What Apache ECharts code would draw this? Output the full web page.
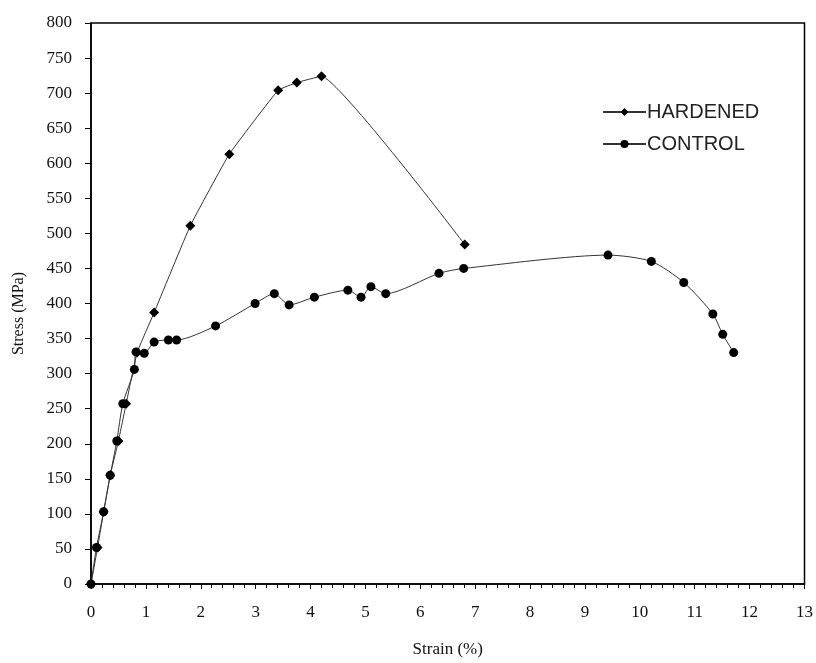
<!DOCTYPE html>
<html>
<head>
<meta charset="utf-8">
<script src="https://cdn.jsdelivr.net/npm/echarts@6/dist/echarts.min.js"></script>
<style>
  html, body { margin: 0; padding: 0; background: #fff; }
  #chart { width: 816px; height: 663px; }
</style>
</head>
<body>
<div id="chart"></div>
<script>
// strain (%) / stress (MPa)
const hardenedStrain = [0, 0.12, 0.23, 0.35, 0.5, 0.64, 0.84, 1.15, 1.81, 2.52, 3.41, 3.75, 4.2, 6.81]
const hardenedStress = [0, 52, 103, 155, 204, 257, 330, 387, 511, 613, 704, 715, 724, 484]

const controlStrain = [0, 0.1, 0.23, 0.35, 0.47, 0.58, 0.79, 0.82, 0.97, 1.15, 1.41, 1.56, 2.27, 2.99, 3.34, 3.61, 4.07, 4.68, 4.92, 5.1, 5.37, 6.34, 6.79, 9.42, 10.21, 10.8, 11.33, 11.51, 11.71]
const controlStress = [0, 52, 103, 155, 204, 257, 306, 331, 329, 345, 348, 348, 368, 400, 414, 398, 409, 419, 409, 424, 414, 443, 450, 469, 460, 430, 385, 356, 330]

const xTicks = { min: 0, max: 13, step: 1 }
const yTicks = { min: 0, max: 800, step: 50 }

const pairs = (xs, ys) => xs.map((x, i) => [x, ys[i]])

const chart = echarts.init(document.getElementById('chart'))

const serif = '"Liberation Serif", "DejaVu Serif", serif'

chart.setOption({
  backgroundColor: '#fff',
  animation: false,
  grid: {
    left: 91,
    right: 10,
    top: 23,
    bottom: 79,
    show: true,
    borderColor: '#000',
    borderWidth: 1.5,
  },
  legend: {
    orient: 'vertical',
    left: 602,
    top: 102,
    padding: 0,
    itemWidth: 43,
    itemHeight: 10,
    itemGap: 12,
    textStyle: { fontFamily: '"Liberation Sans", Arial, sans-serif', fontSize: 20, color: '#222', padding: [0, 0, 0, -4] },
    data: ['HARDENED', 'CONTROL'],
  },
  xAxis: {
    type: 'value',
    min: xTicks.min,
    max: xTicks.max,
    interval: xTicks.step,
    name: 'Strain (%)',
    nameLocation: 'middle',
    nameGap: 57,
    nameTextStyle: { fontFamily: serif, fontSize: 17, color: '#111' },
    axisLine: { lineStyle: { color: '#000', width: 1.5 } },
    axisTick: { inside: false, length: 5, lineStyle: { color: '#000' } },
    minorTick: { show: true, splitNumber: 5, length: 4, lineStyle: { color: '#000' } },
    splitLine: { show: false },
    axisLabel: { fontFamily: serif, fontSize: 17, color: '#111', margin: 20 },
  },
  yAxis: {
    type: 'value',
    min: yTicks.min,
    max: yTicks.max,
    interval: yTicks.step,
    name: 'Stress (MPa)',
    nameLocation: 'middle',
    nameGap: 64,
    nameTextStyle: { fontFamily: serif, fontSize: 16, color: '#111', padding: [0, 0, 0, -20] },
    axisLine: { show: true, lineStyle: { color: '#000', width: 1.5 } },
    axisTick: { show: true, length: 6, lineStyle: { color: '#000' } },
    splitLine: { show: false },
    axisLabel: { fontFamily: serif, fontSize: 17, color: '#111', margin: 19 },
  },
  series: [
    {
      name: 'HARDENED',
      type: 'line',
      smooth: 0.1,
      symbol: 'diamond',
      symbolSize: 10,
      itemStyle: { color: '#000' },
      lineStyle: { color: '#333', width: 1 },
      data: pairs(hardenedStrain, hardenedStress),
    },
    {
      name: 'CONTROL',
      type: 'line',
      smooth: 0.25,
      symbol: 'circle',
      symbolSize: 9,
      itemStyle: { color: '#000' },
      lineStyle: { color: '#333', width: 1 },
      data: pairs(controlStrain, controlStress),
    },
  ],
})
</script>
</body>
</html>
